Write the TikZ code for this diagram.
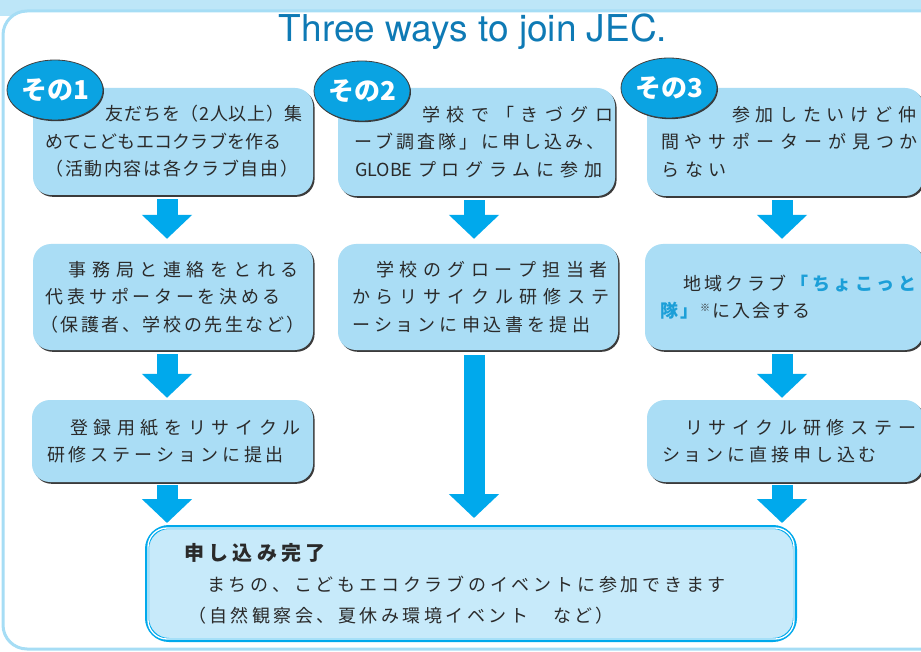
\documentclass[tikz,border=0pt]{standalone}
\usepackage{fontspec}
\usetikzlibrary{arrows.meta,shapes.geometric,shadows}
\newfontfamily\jp{Noto Sans CJK JP}
\newfontfamily\titlefont{TeX Gyre Heros}
\definecolor{jecbox}{HTML}{AADDF5}
\definecolor{jecdone}{HTML}{C7EAFA}
\definecolor{jeccyan}{HTML}{00A9EC}
\definecolor{jecbadge}{HTML}{0AA3E2}
\definecolor{jectitle}{HTML}{0E7AB5}
\definecolor{jectext}{HTML}{2A2A2A}
\definecolor{jechl}{HTML}{1C9FD8}
\definecolor{jecpale}{HTML}{BDE6F8}
\definecolor{jecframe}{HTML}{A6DDF5}
\newcommand\jhl{\bfseries\color{jechl}}
% one line of box text: indent, width, characters spread over the width
\ExplSyntaxOn
\NewDocumentCommand \jl { m m m }
 {
  \hspace*{#1pt}
  \hbox_to_wd:nn {#2pt}
   { \tl_map_inline:nn {#3} { {##1} \skip_horizontal:n {0pt~plus~1fil} } \unskip }
 }
\ExplSyntaxOff

\begin{document}
\begin{tikzpicture}[x=1pt,y=-1pt,
  stepbox/.style={rounded corners=18pt, fill=jecbox, inner xsep=12pt, inner ysep=0pt,
    align=left, text=jectext, font=\jp\fontsize{18}{27.5}\selectfont,
    drop shadow={shadow xshift=1.6pt, shadow yshift=-1.8pt, fill=black!85, opacity=.9}},
  donebox/.style={rounded corners=22pt, fill=jecdone, draw=jeccyan, line width=4pt,
    inner xsep=12pt, inner ysep=0pt, align=left, text=jectext,
    font=\jp\fontsize{18}{31}\selectfont},
  badge/.style={ellipse, fill=jecbadge, draw=black!75, line width=.8pt,
    minimum width=90pt, minimum height=60pt,
    inner sep=0pt, text=white, font=\jp\bfseries\fontsize{26}{26}\selectfont,
    drop shadow={shadow xshift=1pt, shadow yshift=-1.2pt, fill=black!85, opacity=.9}},
  flow/.style={draw=jeccyan, line width=21pt, -{Triangle[width=49pt,length=24pt]}},
]
\useasboundingbox (0,0) rectangle (921,652);
\clip (0,0) rectangle (921,652);

% frame
\fill[jecpale] (0,0) rectangle (921,16);
\draw[jecframe, line width=3pt, fill=white, rounded corners=24pt] (3,11) rectangle (990,649);

\node[font=\titlefont\fontsize{37}{37}\selectfont, text=jectitle, anchor=base] (title) at (473,42) {Three ways to join JEC.};

% first row
\node[stepbox, text width=256pt, minimum height=107pt] (one1) at (173,141.5) {%
  \jl{61}{197}{友だちを（2人以上）集}\\
  \jl{0}{237}{めてこどもエコクラブを作る}\\
  \jl{1}{252}{（活動内容は各クラブ自由）}};
\node[stepbox, text width=253pt, minimum height=108pt] (two1) at (476.5,142) {%
  \jl{72}{191}{学校で「きづグロ}\\
  \jl{4}{251}{ーブ調査隊」に申し込み、}\\
  \jl{5}{247}{{GLOBE}プログラムに参加}};
\node[stepbox, text width=252pt, minimum height=108pt] (three1) at (785,142) {%
  \jl{73}{184}{参加したいけど仲}\\
  \jl{2}{257}{間やサポーターが見つか}\\
  \jl{2}{66}{らない}};

% second row
\node[stepbox, text width=256pt, minimum height=106pt] (one2) at (173,297) {%
  \jl{24}{230}{事務局と連絡をとれる}\\
  \jl{1}{235}{代表サポーターを決める}\\
  \jl{-5}{265}{（保護者、学校の先生など）}};
\node[stepbox, text width=256pt, minimum height=106pt] (two2) at (478,297) {%
  \jl{26}{232}{学校のグロープ担当者}\\
  \jl{2}{258}{からリサイクル研修ステ}\\
  \jl{2}{238}{ーションに申込書を提出}};
\node[stepbox, text width=254pt, minimum height=106pt] (three2) at (784,297) {%
  \jl{26}{233}{地域クラブ{\jhl「}{\jhl ち}{\jhl ょ}{\jhl こ}{\jhl っ}{\jhl と}}\\
  \jl{3}{150}{{\jhl 隊}{\jhl 」}{\raisebox{6pt}{\fontsize{10}{10}\selectfont ※}}に入会する}};

% third row
\node[stepbox, text width=257pt, minimum height=82pt] (one3) at (172.5,441) {%
  \jl{26}{231}{登録用紙をリサイクル}\\
  \jl{3}{237}{研修ステーションに提出}};
\node[stepbox, text width=252pt, minimum height=82pt] (three3) at (785,441) {%
  \jl{26}{231}{リサイクル研修ステー}\\
  \jl{3}{215}{ションに直接申し込む}};

% result
\node[donebox, text width=624pt, minimum height=113pt] (done) at (471,583.5) {%
  {\bfseries\fontsize{20}{31}\selectfont\jl{25}{142}{申し込み完了}}\\
  \jl{48}{519}{まちの、こどもエコクラブのイベントに参加できます}\\
  \jl{29}{426}{（自然観察会、夏休み環境イベント　など）}};
\draw[white, line width=1.3pt, rounded corners=19pt]
  ([shift={(3pt,-3pt)}]done.north west) rectangle ([shift={(-3pt,3pt)}]done.south east);

% badges
\node[badge] (b1) at (55,90) {その1};
\node[badge] (b2) at (362,91) {その2};
\node[badge] (b3) at (669,88) {その3};

% arrows
\coordinate (c1) at (167,0);
\coordinate (c2) at (474,0);
\coordinate (c3) at (782,0);
\draw[flow, shorten <=4pt, shorten >=5pt] (one1.south -| c1) -- (one2.north -| c1);
\draw[flow, shorten <=4pt, shorten >=2pt] (one2.south -| c1) -- (one3.north -| c1);
\draw[flow, shorten <=3pt, shorten >=2pt] (one3.south -| c1) -- (done.north -| c1);
\draw[flow, shorten <=4pt, shorten >=5pt] (two1.south -| c2) -- (two2.north -| c2);
\draw[flow, shorten <=5pt, shorten >=7pt] (two2.south -| c2) -- (done.north -| c2);
\draw[flow, shorten <=4pt, shorten >=5pt] (three1.south -| c3) -- (three2.north -| c3);
\draw[flow, shorten <=4pt, shorten >=2pt] (three2.south -| c3) -- (three3.north -| c3);
\draw[flow, shorten <=3pt, shorten >=2pt] (three3.south -| c3) -- (done.north -| c3);
\end{tikzpicture}
\end{document}
